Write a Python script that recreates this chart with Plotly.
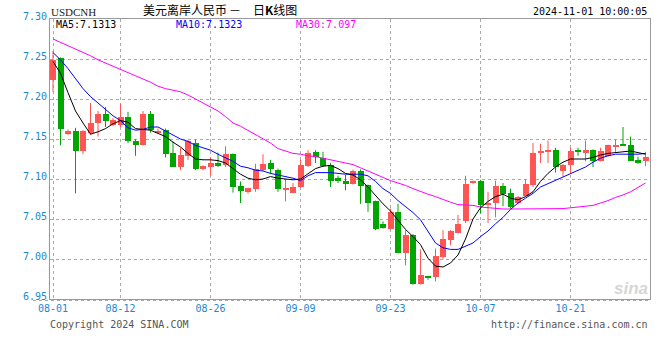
import plotly.graph_objects as go

# ---------------- data ----------------
dates = [
    "2024-08-01", "2024-08-02", "2024-08-03",
    "2024-08-05", "2024-08-06", "2024-08-07", "2024-08-08", "2024-08-09", "2024-08-10",
    "2024-08-12", "2024-08-13", "2024-08-14", "2024-08-15", "2024-08-16", "2024-08-17",
    "2024-08-19", "2024-08-20", "2024-08-21", "2024-08-22", "2024-08-23", "2024-08-24",
    "2024-08-26", "2024-08-27", "2024-08-28", "2024-08-29", "2024-08-30", "2024-08-31",
    "2024-09-02", "2024-09-03", "2024-09-04", "2024-09-05", "2024-09-06", "2024-09-07",
    "2024-09-09", "2024-09-10", "2024-09-11", "2024-09-12", "2024-09-13", "2024-09-14",
    "2024-09-16", "2024-09-17", "2024-09-18", "2024-09-19", "2024-09-20", "2024-09-21",
    "2024-09-23", "2024-09-24", "2024-09-25", "2024-09-26", "2024-09-27", "2024-09-28",
    "2024-09-30", "2024-10-01", "2024-10-02", "2024-10-03", "2024-10-04", "2024-10-05",
    "2024-10-07", "2024-10-08", "2024-10-09", "2024-10-10", "2024-10-11", "2024-10-12",
    "2024-10-14", "2024-10-15", "2024-10-16", "2024-10-17", "2024-10-18", "2024-10-19",
    "2024-10-21", "2024-10-22", "2024-10-23", "2024-10-24", "2024-10-25", "2024-10-26",
    "2024-10-28", "2024-10-29", "2024-10-30", "2024-10-31", "2024-11-01",
]

open_ = [
    7.224, 7.251, 7.156, 7.160, 7.135, 7.158, 7.170, 7.181, 7.168, 7.167,
    7.178, 7.147, 7.143, 7.181, 7.158, 7.161, 7.132, 7.115, 7.129, 7.145,
    7.112, 7.115, 7.120, 7.117, 7.131, 7.091, 7.084, 7.087, 7.111, 7.120,
    7.111, 7.086, 7.083, 7.090, 7.116, 7.134, 7.126, 7.117, 7.101, 7.098,
    7.094, 7.110, 7.092, 7.072, 7.044, 7.038, 7.059, 7.008, 7.030, 6.969,
    6.978, 6.977, 7.003, 7.024, 7.033, 7.047, 7.095, 7.098, 7.067, 7.070,
    7.091, 7.083, 7.070, 7.079, 7.092, 7.133, 7.134, 7.136, 7.110, 7.117,
    7.135, 7.133, 7.136, 7.123, 7.129, 7.140, 7.143, 7.142, 7.124, 7.122,
]
high = [
    7.260, 7.252, 7.162, 7.164, 7.161, 7.195, 7.185, 7.190, 7.176, 7.194,
    7.184, 7.150, 7.185, 7.185, 7.163, 7.163, 7.147, 7.139, 7.149, 7.149,
    7.117, 7.127, 7.133, 7.141, 7.132, 7.097, 7.089, 7.119, 7.131, 7.124,
    7.113, 7.100, 7.095, 7.124, 7.136, 7.136, 7.134, 7.120, 7.104, 7.105,
    7.112, 7.112, 7.093, 7.073, 7.047, 7.063, 7.069, 7.036, 7.031, 7.012,
    6.979, 7.013, 7.036, 7.036, 7.055, 7.104, 7.098, 7.099, 7.084, 7.098,
    7.095, 7.088, 7.079, 7.100, 7.145, 7.144, 7.148, 7.139, 7.119, 7.139,
    7.139, 7.148, 7.137, 7.139, 7.143, 7.150, 7.165, 7.153, 7.128, 7.134,
]
low = [
    7.209, 7.142, 7.155, 7.082, 7.131, 7.155, 7.153, 7.165, 7.166, 7.165,
    7.145, 7.129, 7.142, 7.158, 7.157, 7.127, 7.115, 7.111, 7.124, 7.111,
    7.111, 7.105, 7.115, 7.115, 7.083, 7.070, 7.082, 7.084, 7.110, 7.106,
    7.084, 7.072, 7.083, 7.089, 7.115, 7.120, 7.115, 7.090, 7.095, 7.086,
    7.093, 7.069, 7.059, 7.036, 7.038, 7.037, 7.007, 6.992, 6.968, 6.968,
    6.974, 6.972, 7.000, 7.017, 7.032, 7.045, 7.094, 7.057, 7.045, 7.052,
    7.066, 7.063, 7.068, 7.078, 7.090, 7.120, 7.120, 7.108, 7.103, 7.107,
    7.129, 7.122, 7.115, 7.122, 7.128, 7.134, 7.142, 7.123, 7.119, 7.116,
]
close = [
    7.249, 7.162, 7.160, 7.135, 7.160, 7.170, 7.181, 7.172, 7.174, 7.178,
    7.147, 7.143, 7.181, 7.161, 7.160, 7.131, 7.115, 7.130, 7.147, 7.113,
    7.116, 7.120, 7.116, 7.131, 7.090, 7.085, 7.089, 7.112, 7.119, 7.112,
    7.087, 7.089, 7.090, 7.117, 7.133, 7.127, 7.116, 7.097, 7.097, 7.094,
    7.110, 7.091, 7.070, 7.038, 7.039, 7.059, 7.008, 7.030, 6.969, 6.980,
    6.977, 7.004, 7.025, 7.035, 7.044, 7.094, 7.098, 7.067, 7.070, 7.091,
    7.081, 7.065, 7.077, 7.094, 7.133, 7.134, 7.135, 7.115, 7.118, 7.135,
    7.134, 7.136, 7.123, 7.135, 7.142, 7.143, 7.142, 7.123, 7.120, 7.128,
]

ma5 = [
    7.247, 7.232, 7.208, 7.185, 7.170, 7.156, 7.159, 7.163, 7.169, 7.173,
    7.171, 7.163, 7.162, 7.161, 7.157, 7.153, 7.146, 7.140, 7.132, 7.125,
    7.124, 7.124, 7.123, 7.120, 7.113, 7.106, 7.101, 7.099, 7.100, 7.103,
    7.101, 7.100, 7.099, 7.100, 7.106, 7.113, 7.116, 7.117, 7.113, 7.107,
    7.105, 7.099, 7.090, 7.079, 7.069, 7.060, 7.049, 7.037, 7.028, 7.018,
    7.001, 6.991, 6.990, 6.995, 7.005, 7.025, 7.050, 7.064, 7.072, 7.078,
    7.081, 7.076, 7.074, 7.078, 7.084, 7.097, 7.107, 7.115, 7.121, 7.125,
    7.125, 7.125, 7.127, 7.130, 7.132, 7.133, 7.134, 7.135, 7.133, 7.131,
]
ma10 = [
    7.258, 7.249, 7.238, 7.225, 7.213, 7.203, 7.195, 7.187, 7.179, 7.173,
    7.164, 7.161, 7.162, 7.165, 7.165, 7.160, 7.155, 7.150, 7.147, 7.142,
    7.139, 7.136, 7.131, 7.127, 7.122, 7.116, 7.114, 7.111, 7.110, 7.107,
    7.105, 7.103, 7.101, 7.098, 7.104, 7.108, 7.108, 7.108, 7.107, 7.106,
    7.106, 7.106, 7.104, 7.097, 7.088, 7.082, 7.073, 7.066, 7.058, 7.049,
    7.034, 7.020, 7.014, 7.012, 7.012, 7.016, 7.020, 7.028, 7.035, 7.044,
    7.052, 7.062, 7.070, 7.076, 7.082, 7.090, 7.094, 7.098, 7.102, 7.106,
    7.110, 7.115, 7.121, 7.126, 7.129, 7.131, 7.131, 7.131, 7.131, 7.132,
]
ma30 = [
    7.275, 7.271, 7.267, 7.263, 7.259, 7.254, 7.249, 7.245, 7.241, 7.237,
    7.234, 7.230, 7.226, 7.221, 7.216, 7.213, 7.211, 7.209, 7.205, 7.200,
    7.195, 7.190, 7.185, 7.178, 7.170, 7.166, 7.161, 7.156, 7.151, 7.145,
    7.138, 7.135, 7.132, 7.131, 7.129, 7.128, 7.126, 7.124, 7.122, 7.120,
    7.118, 7.114, 7.110, 7.105, 7.101, 7.098, 7.095, 7.092, 7.088, 7.084,
    7.081, 7.078, 7.074, 7.071, 7.068, 7.0675, 7.067, 7.065, 7.064, 7.063,
    7.0625, 7.0625, 7.0625, 7.0625, 7.0625, 7.0625, 7.0625, 7.0625, 7.063, 7.064,
    7.065, 7.066, 7.067, 7.070, 7.073, 7.077, 7.080, 7.084, 7.089, 7.095,
]

x_tick_dates = ["2024-08-01", "2024-08-12", "2024-08-26", "2024-09-09",
                "2024-09-23", "2024-10-07", "2024-10-21"]
x_tick_labels = ["08-01", "08-12", "08-26", "09-09", "09-23", "10-07", "10-21"]
y_ticks = [6.95, 7.00, 7.05, 7.10, 7.15, 7.20, 7.25, 7.30]
y_tick_labels = ["6.95", "7.00", "7.05", "7.10", "7.15", "7.20", "7.25", "7.30"]

# ---------------- styling ----------------
W, H = 660, 360
ML, MR, MT, MB = 50, 10, 19, 61
RED = "#ff5555"
GREEN = "#00a600"
BLUE_TXT = "#1a87d1"
MONO = "DejaVu Sans Mono"


def px(x):
    return (x - ML) / (W - ML - MR)


def py(y):
    return (H - MB - y) / (H - MT - MB)


fig = go.Figure()

# wicks
for up in (True, False):
    wx, wy = [], []
    for d, o, h, l, c in zip(dates, open_, high, low, close):
        if (c >= o) == up:
            wx += [d, d, None]
            wy += [l, h, None]
    fig.add_trace(go.Scatter(x=wx, y=wy, mode="lines",
                             line=dict(color=RED if up else GREEN, width=1),
                             hoverinfo="skip", showlegend=False))

# bodies
bases = [min(o, c) for o, c in zip(open_, close)]
heights = [max(abs(c - o), 0.0012) for o, c in zip(open_, close)]
colors = [RED if c >= o else GREEN for o, c in zip(open_, close)]
fig.add_trace(go.Bar(x=dates, y=heights, base=bases, width=0.8,
                     marker=dict(color=colors, line=dict(width=0)),
                     showlegend=False, hoverinfo="skip"))

# moving averages
for vals, col in ((ma30, "#ff00ff"), (ma10, "#0000ff"), (ma5, "#000000")):
    fig.add_trace(go.Scatter(x=dates, y=vals, mode="lines",
                             line=dict(color=col, width=1),
                             showlegend=False, hoverinfo="skip"))

fig.update_layout(
    width=W, height=H,
    margin=dict(l=ML, r=MR, t=MT, b=MB, pad=0),
    paper_bgcolor="white", plot_bgcolor="white",
    barmode="overlay", bargap=0,
    showlegend=False,
)
fig.update_xaxes(
    type="category", categoryorder="array", categoryarray=dates,
    range=[-0.4, len(dates) - 0.4],
    tickmode="array", tickvals=x_tick_dates, ticktext=x_tick_labels,
    showgrid=True, gridcolor="#aaaaaa", griddash="dot", gridwidth=1,
    showline=True, mirror=True, linecolor="#999999", linewidth=1,
    ticks="", zeroline=False,
    tickfont=dict(family=MONO, size=10, color=BLUE_TXT),
)
fig.update_yaxes(
    range=[6.95, 7.30],
    tickmode="array", tickvals=y_ticks, ticktext=y_tick_labels,
    showgrid=True, gridcolor="#aaaaaa", griddash="dot", gridwidth=1,
    showline=True, mirror=True, linecolor="#999999", linewidth=1,
    ticks="", zeroline=False, ticklabelshift=-3,
    tickfont=dict(family=MONO, size=10, color=BLUE_TXT),
)

# dotted line under the frame
fig.add_shape(type="line", xref="paper", yref="paper",
              x0=px(33), x1=px(650), y0=py(300.5), y1=py(300.5),
              line=dict(color="#aaaaaa", width=1, dash="dot"))


def note(text, x, y, anchor="left", size=10, color="#000", family=MONO, **kw):
    fig.add_annotation(text=text, xref="paper", yref="paper",
                       x=px(x), y=py(y), xanchor=anchor, yanchor="middle",
                       showarrow=False,
                       font=dict(family=family, size=size, color=color, **kw))


note("USDCNH", 49, 12, size=11, color="#222222", family="Liberation Serif")
note("美元离岸人民币", 141, 10, size=12, family="Noto Sans CJK SC")
note("－", 235, 10, anchor="center", size=12, family="Noto Sans CJK SC")
note("日<b>K</b>线图", 251, 10, size=12, family="Noto Sans CJK SC")
note("2024-11-01 10:00:05", 649, 11, anchor="right")
note("MA5:7.1313", 54, 24)
note("MA10:7.1323", 174, 24, color="#0000ff")
note("MA30:7.097", 294, 24, color="#ff00ff")
note("Copyright 2024 SINA.COM", 48, 324, color="#555555")
note("http://finance.sina.com.cn", 650, 324, anchor="right", color="#555555")
note("sina", 631, 288, anchor="center", size=17, color="#d6d6d6",
     family="Liberation Sans", style="italic", weight="bold")

fig.write_html("out.html")
